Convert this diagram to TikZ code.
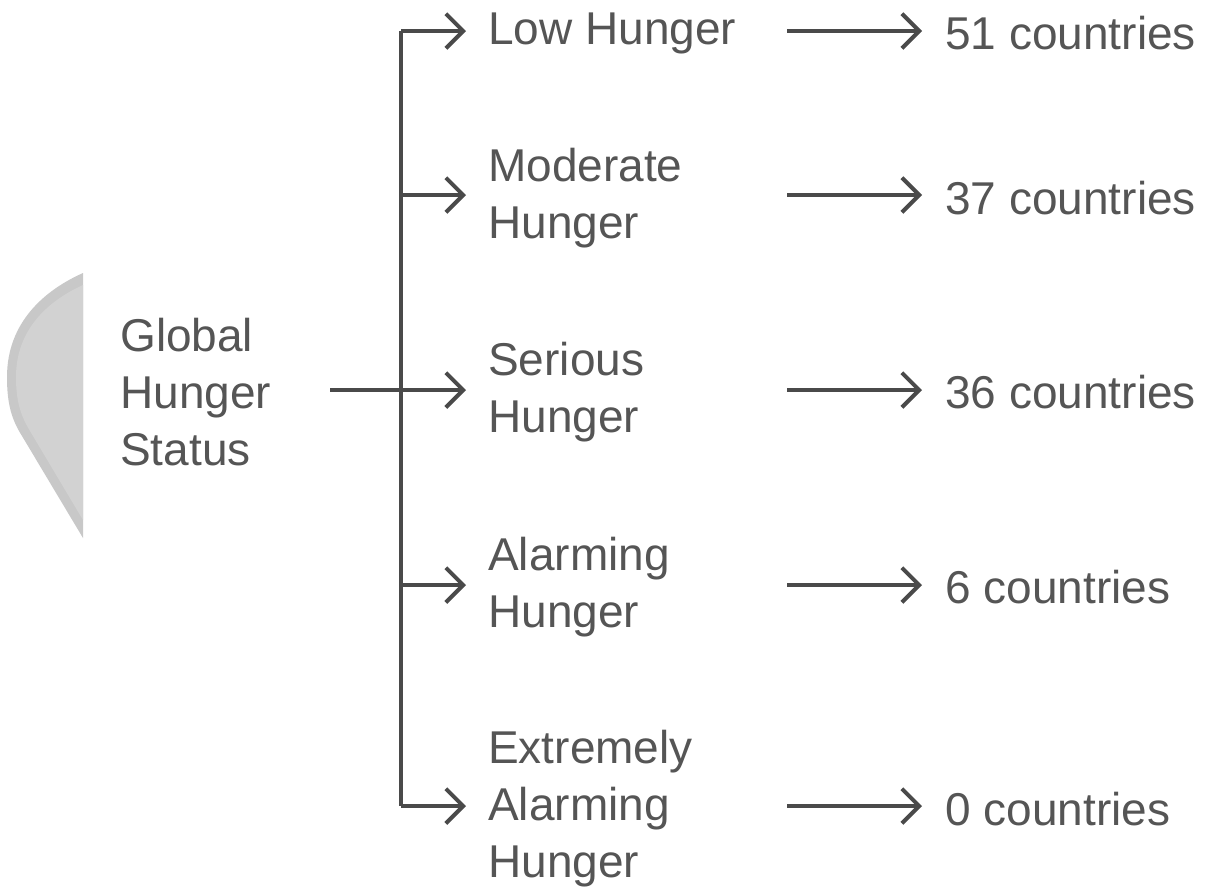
\documentclass[tikz,border=0pt]{standalone}
\usepackage{fontspec}
\setmainfont{Liberation Sans}
\usetikzlibrary{arrows.meta}
\definecolor{linec}{HTML}{4A4A4A}
\definecolor{textc}{HTML}{555555}
\definecolor{blob}{HTML}{C8C8C8}
\definecolor{blobin}{HTML}{D2D2D2}
\begin{document}
\begin{tikzpicture}[x=0.75pt,y=-0.75pt,
  lbl/.style={inner sep=0pt, anchor=west, align=left, text=textc,
    font=\fontsize{34.5}{42.75}\selectfont},
  conn/.style={draw=linec, line width=3pt, line cap=butt},
  arr/.style={conn, -{Straight Barb[length=13pt,width=26pt,line width=3pt]}},
]
\useasboundingbox (0,0) rectangle (1218,890);
% decorative grey shape
\fill[blob] (83,273) .. controls (45,290) and (7,322) .. (7,377)
  .. controls (7,405) and (12,420) .. (22,436) -- (83,538) -- cycle;
\fill[blobin] (83,285) .. controls (50,300) and (16,328) .. (16,377)
  .. controls (16,402) and (21,416) .. (30,431) -- (83,520) -- cycle;
% nodes
\node[lbl] (g) at (120,392) {Global\\Hunger\\Status};
\node[lbl] (c1) at (488,33) {Low Hunger};
\node[lbl] (c2) at (488,198) {Moderate\\Hunger};
\node[lbl] (c3) at (488,392) {Serious\\Hunger};
\node[lbl] (c4) at (488,587) {Alarming\\Hunger};
\node[lbl] (c5) at (488,809) {Extremely\\Alarming\\Hunger};
\node[lbl] (n1) at (945,33) {51 countries};
\node[lbl] (n2) at (945,198) {37 countries};
\node[lbl] (n3) at (945,392) {36 countries};
\node[lbl] (n4) at (945,587) {6 countries};
\node[lbl] (n5) at (945,809) {0 countries};
% coordinates
\coordinate (gs) at (330,390);
\coordinate (t1) at (401,31);
\coordinate (t2) at (401,195);
\coordinate (t3) at (401,390);
\coordinate (t4) at (401,585);
\coordinate (t5) at (401,806);
\coordinate (s1) at (787,31);
\coordinate (s2) at (787,195);
\coordinate (s3) at (787,390);
\coordinate (s4) at (787,585);
\coordinate (s5) at (787,806);
\coordinate (e1) at (922,31);
\coordinate (e2) at (922,195);
\coordinate (e3) at (922,390);
\coordinate (e4) at (922,585);
\coordinate (e5) at (922,806);
\coordinate (a1) at (466,31);
\coordinate (a2) at (466,195);
\coordinate (a3) at (466,390);
\coordinate (a4) at (466,585);
\coordinate (a5) at (466,806);
% trunk
\draw[conn] (t1) -- (t5);
\draw[conn] (gs) -- (t3);
% branches
\foreach \i in {1,...,5} {
  \draw[arr] (t\i) -- (a\i);
  \draw[arr] (s\i) -- (e\i);
}
\end{tikzpicture}
\end{document}
